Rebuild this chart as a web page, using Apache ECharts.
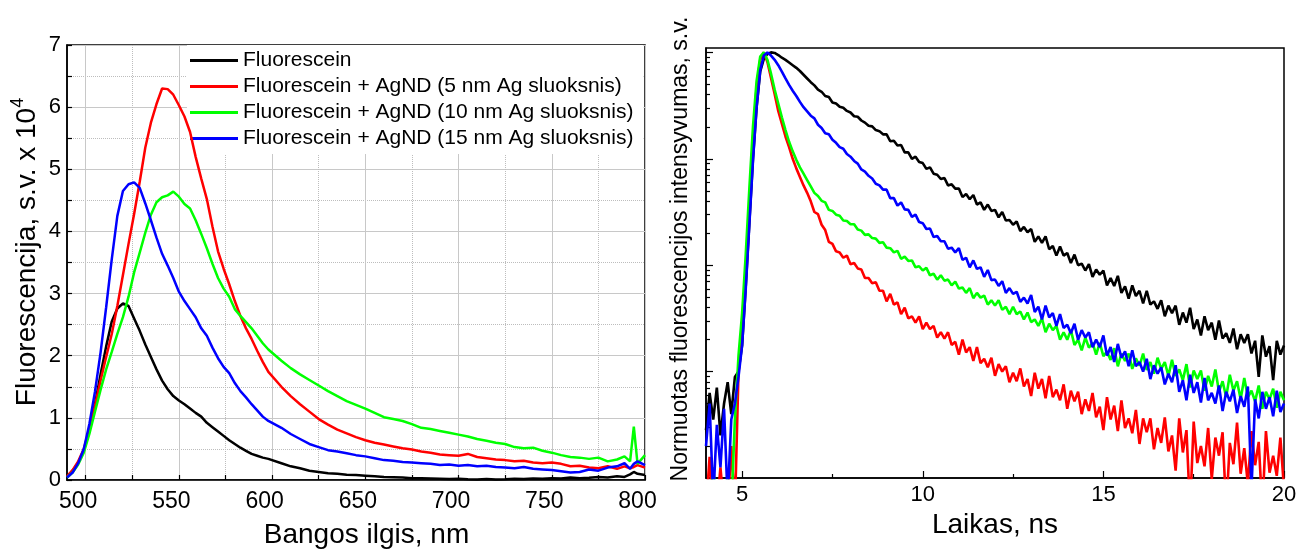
<!DOCTYPE html>
<html><head><meta charset="utf-8">
<script src="https://cdn.jsdelivr.net/npm/echarts@6/dist/echarts.min.js"></script>
<style>html,body{margin:0;padding:0;background:#fff}#c{width:1299px;height:549px}</style>
</head><body><div id="c"></div>
<script>
// ---------- Left panel: fluorescence spectra (x10^4 a.u.) ----------
const wavelengthNm = [490,493,496,499,502,505,508,511,514,517,520,523,526,529,532,535,538,541,544,547,550,553,556,559,562,565,568,571,574,577,580,583,586,589,592,595,598,
605,610,615,620,625,630,635,640,645,650,655,660,665,670,675,680,685,690,695,700,705,710,715,720,725,730,735,740,745,750,755,760,765,770,775,780,785,789,792,794,796,800];
const specFluorescein = [0.05,0.15,0.28,0.47,0.80,1.22,1.70,2.15,2.55,2.76,2.84,2.80,2.60,2.40,2.18,1.98,1.78,1.60,1.46,1.35,1.28,1.22,1.15,1.08,1.02,0.92,0.85,0.78,0.71,0.64,0.58,0.52,0.47,0.42,0.39,0.36,0.34,
0.27,0.22,0.19,0.15,0.13,0.11,0.10,0.085,0.08,0.07,0.06,0.05,0.045,0.04,0.03,0.03,0.025,0.02,0.015,0.02,0.012,0.01,0.015,0.01,0.012,0.02,0.015,0.025,0.02,0.03,0.025,0.04,0.03,0.035,0.05,0.04,0.06,0.05,0.09,0.13,0.10,0.08];
const specAg5 = [0.06,0.16,0.30,0.50,0.82,1.20,1.60,1.98,2.35,2.80,3.30,3.80,4.28,4.80,5.35,5.75,6.05,6.30,6.29,6.20,6.03,5.85,5.60,5.20,4.85,4.52,4.08,3.68,3.40,3.15,2.88,2.64,2.44,2.27,2.08,1.90,1.74,
1.50,1.35,1.22,1.10,0.98,0.89,0.81,0.75,0.69,0.64,0.60,0.57,0.54,0.51,0.49,0.46,0.44,0.41,0.40,0.39,0.42,0.37,0.35,0.33,0.32,0.30,0.31,0.28,0.27,0.28,0.26,0.22,0.23,0.20,0.19,0.22,0.18,0.22,0.19,0.21,0.24,0.20];
const specAg10 = [0.04,0.12,0.25,0.44,0.74,1.10,1.45,1.78,2.06,2.35,2.62,2.95,3.34,3.66,3.98,4.27,4.47,4.55,4.58,4.64,4.56,4.44,4.37,4.18,3.96,3.73,3.48,3.25,3.08,2.95,2.75,2.64,2.54,2.44,2.32,2.20,2.10,
1.92,1.80,1.70,1.61,1.52,1.43,1.35,1.27,1.21,1.15,1.08,1.01,0.98,0.95,0.90,0.84,0.82,0.79,0.76,0.73,0.70,0.66,0.63,0.60,0.58,0.53,0.51,0.52,0.47,0.44,0.40,0.37,0.36,0.34,0.36,0.30,0.33,0.38,0.30,0.86,0.26,0.40];
const specAg15 = [0.04,0.12,0.27,0.50,0.90,1.42,2.05,2.78,3.55,4.25,4.65,4.76,4.79,4.70,4.45,4.18,3.90,3.64,3.45,3.25,3.03,2.88,2.75,2.62,2.44,2.32,2.13,1.96,1.82,1.72,1.56,1.43,1.33,1.22,1.12,1.02,0.95,
0.84,0.74,0.66,0.58,0.53,0.48,0.46,0.43,0.40,0.38,0.35,0.32,0.31,0.29,0.28,0.27,0.26,0.24,0.25,0.23,0.24,0.22,0.23,0.21,0.20,0.19,0.21,0.18,0.17,0.16,0.14,0.12,0.13,0.17,0.15,0.20,0.22,0.27,0.18,0.26,0.30,0.24];
const specXLabels = [500,550,600,650,700,750,800];
const specXMinorTicks = [525,575,625,675,725,775];

// ---------- Right panel: normalised decay curves, values stored as log10 ----------
const timeNs = [4.0,4.1,4.2,4.3,4.4,4.5,4.6,4.7,4.8,4.9,5.0,5.1,5.2,5.3,5.4,5.5,5.6,5.7,5.8,5.9,6.0,6.1,6.2,6.3,6.4,6.5,6.6,6.7,6.8,6.9,
7.0,7.1,7.2,7.3,7.4,7.5,7.6,7.7,7.8,7.9,8.0,8.1,8.2,8.3,8.4,8.5,8.6,8.7,8.8,8.9,
9.0,9.1,9.2,9.3,9.4,9.5,9.6,9.7,9.8,9.9,10.0,10.1,10.2,10.3,10.4,10.5,10.6,10.7,10.8,10.9,
11.0,11.1,11.2,11.3,11.4,11.5,11.6,11.7,11.8,11.9,12.0,12.1,12.2,12.3,12.4,12.5,12.6,12.7,12.8,12.9,
13.0,13.1,13.2,13.3,13.4,13.5,13.6,13.7,13.8,13.9,14.0,14.1,14.2,14.3,14.4,14.5,14.6,14.7,14.8,14.9,
15.0,15.1,15.2,15.3,15.4,15.5,15.6,15.7,15.8,15.9,16.0,16.1,16.2,16.3,16.4,16.5,16.6,16.7,16.8,16.9,
17.0,17.1,17.2,17.3,17.4,17.5,17.6,17.7,17.8,17.9,18.0,18.1,18.2,18.3,18.4,18.5,18.6,18.7,18.8,18.9,
19.0,19.1,19.2,19.3,19.4,19.5,19.6,19.7,19.8,19.9,20.0];
const decayLogFluorescein = [-3.55,-3.20,-3.45,-3.15,-3.60,-3.30,-3.10,-3.40,-3.05,-3.00,-2.75,-2.20,-1.60,-1.00,-0.52,-0.18,-0.06,-0.015,0.0,-0.005,-0.025,-0.05,-0.07,-0.095,-0.12,-0.145,-0.175,-0.21,-0.245,-0.28,
-0.31,-0.35,-0.37,-0.41,-0.42,-0.47,-0.48,-0.51,-0.52,-0.55,-0.565,-0.60,-0.605,-0.64,-0.66,-0.69,-0.695,-0.73,-0.74,-0.77,
-0.77,-0.835,-0.83,-0.875,-0.87,-0.94,-0.94,-1.00,-0.98,-1.03,-1.04,-1.095,-1.08,-1.14,-1.15,-1.19,-1.18,-1.25,-1.24,-1.28,
-1.28,-1.36,-1.33,-1.38,-1.34,-1.43,-1.41,-1.48,-1.43,-1.49,-1.48,-1.55,-1.50,-1.58,-1.575,-1.62,-1.59,-1.68,-1.64,-1.69,
-1.66,-1.78,-1.73,-1.79,-1.73,-1.85,-1.82,-1.91,-1.825,-1.91,-1.885,-1.98,-1.90,-2.00,-1.985,-2.05,-1.99,-2.11,-2.04,-2.09,
-2.05,-2.19,-2.12,-2.195,-2.10,-2.26,-2.20,-2.315,-2.19,-2.29,-2.24,-2.36,-2.24,-2.37,-2.34,-2.41,-2.33,-2.48,-2.38,-2.45,
-2.38,-2.56,-2.445,-2.54,-2.40,-2.60,-2.51,-2.66,-2.48,-2.61,-2.54,-2.70,-2.52,-2.69,-2.64,-2.73,-2.595,-2.79,-2.65,-2.73,
-2.65,-2.83,-2.71,-3.05,-2.66,-2.86,-2.76,-3.08,-2.71,-2.84,-2.755];
const decayLogAg5 = [-4.3,-3.8,-4.3,-4.3,-3.9,-4.3,-4.3,-3.7,-4.3,-3.0,-2.6,-2.05,-1.45,-0.82,-0.33,-0.07,0.0,-0.09,-0.24,-0.39,-0.55,-0.67,-0.79,-0.89,-1.0,-1.09,-1.17,-1.25,-1.32,-1.40,
-1.50,-1.52,-1.62,-1.67,-1.78,-1.80,-1.87,-1.88,-1.93,-1.91,-1.99,-1.98,-2.03,-2.04,-2.12,-2.12,-2.17,-2.16,-2.24,-2.24,
-2.34,-2.27,-2.37,-2.35,-2.46,-2.40,-2.50,-2.48,-2.54,-2.48,-2.60,-2.54,-2.60,-2.57,-2.68,-2.63,-2.69,-2.63,-2.75,-2.72,
-2.84,-2.70,-2.82,-2.77,-2.90,-2.77,-2.92,-2.88,-2.96,-2.87,-3.04,-2.93,-3.00,-2.95,-3.10,-3.01,-3.09,-2.97,-3.14,-3.07,
-3.23,-3.01,-3.16,-3.07,-3.25,-3.04,-3.24,-3.17,-3.27,-3.12,-3.35,-3.18,-3.28,-3.19,-3.40,-3.26,-3.37,-3.20,-3.43,-3.33,
-3.55,-3.24,-3.45,-3.32,-3.56,-3.27,-3.53,-3.44,-3.58,-3.36,-3.68,-3.44,-3.57,-3.44,-3.73,-3.53,-3.67,-3.43,-3.75,-3.60,
-3.93,-3.44,-3.76,-3.55,-4.3,-3.47,-3.86,-3.70,-3.89,-3.53,-4.01,-3.62,-3.79,-3.57,-4.3,-3.67,-3.87,-3.48,-3.96,-3.72,
-4.06,-3.56,-3.88,-3.66,-4.3,-3.56,-3.95,-3.79,-3.98,-3.62,-4.10];
const decayLogAg10 = [-4.3,-4.3,-3.9,-4.3,-4.3,-4.3,-4.0,-4.3,-3.45,-2.85,-2.45,-1.9,-1.28,-0.70,-0.27,-0.04,0.0,-0.07,-0.20,-0.35,-0.48,-0.61,-0.73,-0.84,-0.93,-1.01,-1.08,-1.14,-1.20,-1.26,
-1.32,-1.35,-1.395,-1.41,-1.48,-1.49,-1.525,-1.535,-1.58,-1.585,-1.615,-1.615,-1.665,-1.675,-1.715,-1.71,-1.745,-1.75,-1.79,-1.785,
-1.835,-1.84,-1.88,-1.865,-1.94,-1.92,-1.96,-1.955,-2.02,-2.01,-2.05,-2.025,-2.095,-2.08,-2.135,-2.095,-2.145,-2.135,-2.19,-2.155,
-2.22,-2.21,-2.26,-2.215,-2.31,-2.26,-2.305,-2.285,-2.37,-2.33,-2.38,-2.33,-2.42,-2.39,-2.46,-2.39,-2.46,-2.435,-2.51,-2.445,
-2.535,-2.51,-2.57,-2.50,-2.63,-2.55,-2.61,-2.57,-2.70,-2.63,-2.70,-2.61,-2.75,-2.70,-2.80,-2.68,-2.775,-2.73,-2.84,-2.73,
-2.855,-2.81,-2.89,-2.78,-2.95,-2.83,-2.90,-2.83,-2.975,-2.875,-2.945,-2.83,-2.985,-2.91,-3.02,-2.87,-2.975,-2.91,-3.04,-2.89,
-3.04,-2.98,-3.08,-2.93,-3.15,-2.99,-3.07,-2.99,-3.18,-3.04,-3.14,-2.98,-3.19,-3.09,-3.24,-3.03,-3.18,-3.09,-3.26,-3.06,
-3.24,-3.18,-3.28,-3.13,-3.35,-3.19,-3.26,-3.16,-3.34,-3.19,-3.27];
const decayLogAg15 = [-3.7,-3.3,-4.2,-3.5,-3.9,-3.35,-4.2,-3.45,-3.3,-3.05,-2.75,-2.22,-1.62,-1.02,-0.52,-0.17,-0.03,0.0,-0.03,-0.07,-0.12,-0.18,-0.245,-0.305,-0.36,-0.41,-0.465,-0.515,-0.555,-0.595,
-0.62,-0.68,-0.71,-0.76,-0.77,-0.82,-0.85,-0.89,-0.905,-0.955,-0.98,-1.02,-1.045,-1.10,-1.12,-1.16,-1.185,-1.235,-1.25,-1.29,
-1.29,-1.37,-1.37,-1.44,-1.41,-1.475,-1.48,-1.545,-1.525,-1.595,-1.605,-1.66,-1.655,-1.735,-1.725,-1.775,-1.775,-1.845,-1.835,-1.88,
-1.84,-1.95,-1.93,-2.02,-1.955,-2.035,-2.02,-2.11,-2.045,-2.14,-2.135,-2.195,-2.15,-2.26,-2.215,-2.27,-2.25,-2.345,-2.305,-2.36,
-2.28,-2.44,-2.39,-2.51,-2.38,-2.49,-2.45,-2.57,-2.46,-2.59,-2.56,-2.64,-2.55,-2.70,-2.61,-2.68,-2.63,-2.77,-2.70,-2.77,
-2.66,-2.85,-2.77,-2.91,-2.74,-2.87,-2.81,-2.95,-2.80,-2.95,-2.91,-3.00,-2.88,-3.07,-2.94,-3.02,-2.96,-3.12,-3.02,-3.10,
-2.94,-3.19,-3.08,-3.27,-3.03,-3.20,-3.10,-3.29,-3.06,-3.27,-3.20,-3.30,-3.13,-3.37,-3.19,-3.28,-3.17,-3.39,-3.23,-3.33,
-3.14,-4.1,-3.26,-3.44,-3.19,-3.35,-3.24,-3.42,-3.18,-3.38,-3.30];
const decayXLabels = [5,10,15,20];
const decayXMinorTicks = [7.5,12.5,17.5];
const decayYDecades = [0.0001,0.001,0.01,0.1,1];
const decayYMinorTicks = [0.0002,0.0003,0.0004,0.0005,0.0006,0.0007,0.0008,0.0009,0.002,0.003,0.004,0.005,0.006,0.007,0.008,0.009,0.02,0.03,0.04,0.05,0.06,0.07,0.08,0.09,0.2,0.3,0.4,0.5,0.6,0.7,0.8,0.9];

const seriesNames = ['Fluorescein','Fluorescein + AgND (5 nm Ag sluoksnis)','Fluorescein + AgND (10 nm Ag sluoksnis)','Fluorescein + AgND (15 nm Ag sluoksnis)'];
const seriesColors = ['#000000','#ff0000','#00ff00','#0000ff'];
const spectra = [specFluorescein, specAg5, specAg10, specAg15];
const decays = [decayLogFluorescein, decayLogAg5, decayLogAg10, decayLogAg15];

const F = "'Liberation Sans', Arial, sans-serif";
const black = {color:'#000', width:1.5};

const series = [];
spectra.forEach((arr, k) => {
  series.push({type:'line', name:seriesNames[k], xAxisIndex:0, yAxisIndex:0, showSymbol:false, symbol:'none',
    color:seriesColors[k], lineStyle:{color:seriesColors[k], width:2.5}, clip:true, z:3,
    data: arr.map((v,i)=>[wavelengthNm[i], v])});
});
decays.forEach((arr, k) => {
  series.push({type:'line', name:seriesNames[k], xAxisIndex:2, yAxisIndex:1, showSymbol:false, symbol:'none',
    color:seriesColors[k], lineStyle:{color:seriesColors[k], width:2.6}, clip:true, z:3,
    data: arr.map((v,i)=>[timeNs[i], Math.pow(10, v)])});
});

const chart = echarts.init(document.getElementById('c'), null, {renderer:'canvas'});
chart.setOption({
  animation:false,
  backgroundColor:'#fff',
  textStyle:{fontFamily:F},
  grid:[
    {left:67, top:45, width:578, height:435, show:true, borderColor:'#000', borderWidth:1.5, backgroundColor:'transparent', containLabel:false, outerBoundsMode:'none'},
    {left:706, top:48, width:578, height:430, show:true, borderColor:'#000', borderWidth:1.5, backgroundColor:'transparent', containLabel:false, outerBoundsMode:'none'}
  ],
  legend:{
    data:seriesNames, orient:'vertical', left:187, top:45, icon:'rect', itemWidth:48, itemHeight:3, itemGap:5,
    padding:[5,10,5,3], backgroundColor:'#fff', borderWidth:0, selectedMode:false,
    textStyle:{fontSize:21, fontFamily:F, color:'#000'}, z:2
  },
  xAxis:[
    {gridIndex:0, type:'value', min:490, max:800, position:'bottom',
     axisLine:{show:true, onZero:false, lineStyle:black},
     axisTick:{show:true, inside:true, length:5, customValues:specXLabels, lineStyle:{color:'#000', width:1.2}},
     axisLabel:{show:true, customValues:specXLabels, fontSize:23, fontFamily:F, color:'#000', margin:10, padding:[0,15,0,0]},
     splitLine:{show:true, lineStyle:{color:'#c8c8c8', width:1, type:'solid'}},
     name:'Bangos ilgis, nm', nameLocation:'middle', nameGap:41,
     nameTextStyle:{fontSize:28, fontFamily:F, color:'#000', padding:[0,0,0,21]}},
    {gridIndex:0, type:'value', min:490, max:800, position:'bottom',
     axisLine:{show:false}, axisLabel:{show:false},
     axisTick:{show:true, inside:true, length:5, customValues:specXMinorTicks, lineStyle:{color:'#000', width:1.2}},
     splitLine:{show:true, lineStyle:{color:'#bdbdbd', width:1, type:'dotted'}}},
    {gridIndex:1, type:'value', min:4, max:20, position:'bottom',
     axisLine:{show:true, onZero:false, lineStyle:black},
     axisTick:{show:true, inside:true, length:7, customValues:decayXLabels, lineStyle:{color:'#000', width:1.2}},
     axisLabel:{show:true, customValues:decayXLabels, fontSize:22, fontFamily:F, color:'#000', margin:6},
     splitLine:{show:false},
     name:'Laikas, ns', nameLocation:'middle', nameGap:32,
     nameTextStyle:{fontSize:28, fontFamily:F, color:'#000'}},
    {gridIndex:1, type:'value', min:4, max:20, position:'bottom',
     axisLine:{show:false}, axisLabel:{show:false}, splitLine:{show:false},
     axisTick:{show:true, inside:true, length:4, customValues:decayXMinorTicks, lineStyle:{color:'#000', width:1.2}}}
  ],
  yAxis:[
    {gridIndex:0, type:'value', min:0, max:7, interval:1, position:'left',
     axisLine:{show:true, onZero:false, lineStyle:black},
     axisTick:{show:true, inside:true, length:5, lineStyle:{color:'#000', width:1.2}},
     minorTick:{show:true, splitNumber:2, length:5, lineStyle:{color:'#000', width:1.2}},
     axisLabel:{fontSize:22, fontFamily:F, color:'#000', margin:6},
     splitLine:{show:true, lineStyle:{color:'#c8c8c8', width:1}},
     minorSplitLine:{show:true, lineStyle:{color:'#bdbdbd', width:1, type:'dotted'}},
     name:'{t|Fluorescencija, s.v. x 10}{s|4}', nameLocation:'middle', nameGap:22,
     nameTextStyle:{fontSize:28, fontFamily:F, color:'#000', padding:[0,0,0,21],
       rich:{t:{fontSize:28, fontFamily:F, color:'#000', lineHeight:36}, s:{fontSize:18, fontFamily:F, color:'#000', lineHeight:18, verticalAlign:'top'}}}},
    {gridIndex:1, type:'log', logBase:10, min:0.0001, max:1.1, position:'left',
     axisLine:{show:true, onZero:false, lineStyle:black},
     axisTick:{show:true, inside:true, length:7, customValues:decayYDecades, lineStyle:{color:'#000', width:1.2}},
     axisLabel:{show:false}, splitLine:{show:false},
     name:'Normuotas fluorescencijos intensyvumas, s.v.', nameLocation:'middle', nameGap:14,
     nameTextStyle:{fontSize:23, fontFamily:F, color:'#000', padding:[0,0,0,28]}},
    {gridIndex:1, type:'log', logBase:10, min:0.0001, max:1.1, position:'left',
     axisLine:{show:false}, axisLabel:{show:false}, splitLine:{show:false},
     axisTick:{show:true, inside:true, length:4, customValues:decayYMinorTicks, lineStyle:{color:'#000', width:1.2}}}
  ],
  series: series
});
</script>
</body></html>
